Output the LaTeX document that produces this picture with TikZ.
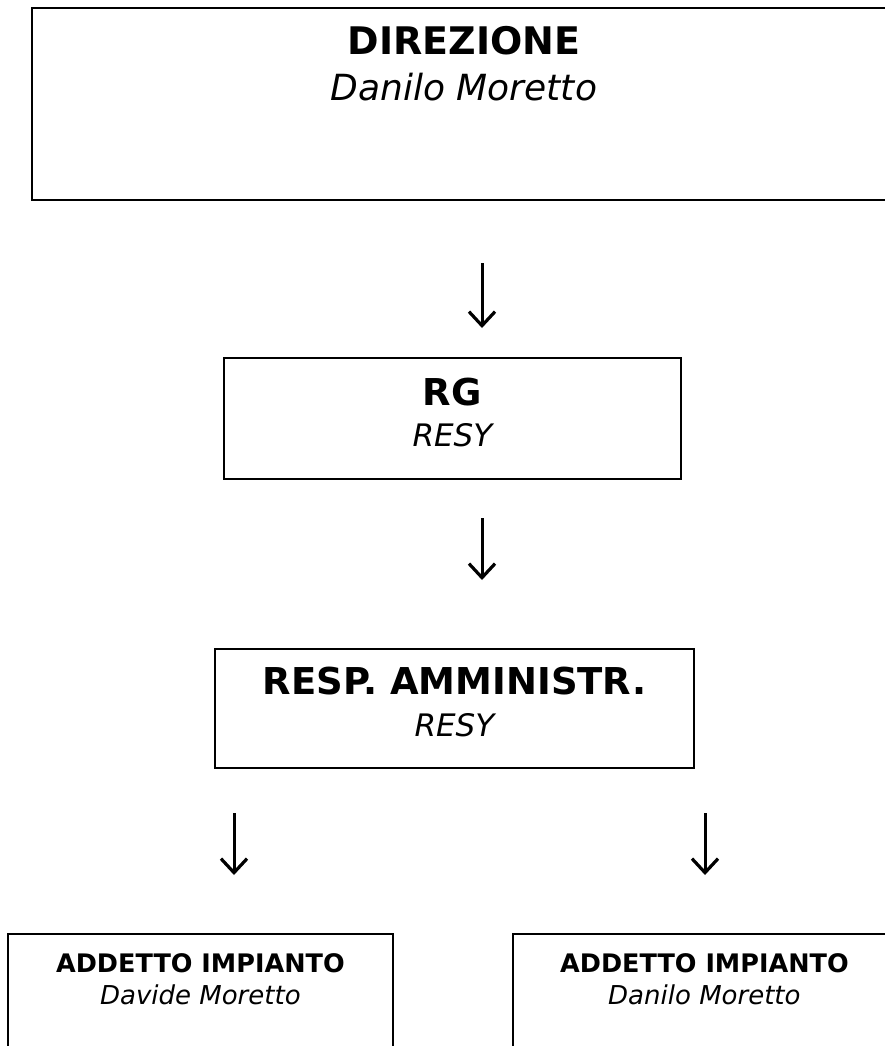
\documentclass[tikz,border=0pt]{standalone}
\usepackage{fontspec}
\setmainfont{DejaVu Sans}
\usepackage{tikz}
\usetikzlibrary{positioning}
\usetikzlibrary{arrows.meta}
\tikzset{orgbox/.style={draw, line width=1.8pt, rectangle, anchor=north west, inner sep=0pt},
headtext/.style={anchor=base, font=\bfseries\fontsize{37}{44}\selectfont},
nametext/.style={anchor=base, font=\itshape\fontsize{31}{37}\selectfont}}

\begin{document}
\begin{tikzpicture}[x=1pt, y=-1pt, down/.style={line width=3pt, -{Straight Barb[length=14pt, width=26pt, line width=3.2pt, line join=miter]}}]
\useasboundingbox (0,0) rectangle (885,1046);

				% boxes
				\node[orgbox, minimum width=864pt, minimum height=192pt] (dir) at (31,7) {};
				\node[orgbox, minimum width=457pt, minimum height=121pt] (rg) at (223,357) {};
				\node[orgbox, minimum width=479pt, minimum height=119pt] (resp) at (214,648) {};
				\node[orgbox, minimum width=385pt, minimum height=150pt] (addl) at (7,933) {};
				\node[orgbox, minimum width=383pt, minimum height=150pt] (addr) at (512,933) {};

				% texts
				\node[headtext, font=\bfseries\fontsize{38}{44}\selectfont] (dirhead) at ([yshift=-48pt]dir.north) {DIREZIONE};
				\node[nametext, font=\itshape\fontsize{36}{42}\selectfont] (dirname) at ([yshift=-94pt]dir.north) {Danilo Moretto};
				\node[headtext] (rghead) at ([yshift=-48pt]rg.north) {RG};
				\node[nametext] (rgname) at ([yshift=-89pt]rg.north) {RESY};
				\node[headtext] (resphead) at ([yshift=-46pt]resp.north) {RESP. AMMINISTR.};
				\node[nametext] (respname) at ([yshift=-88pt]resp.north) {RESY};
				\node[headtext, font=\bfseries\fontsize{25.5}{30}\selectfont] (addlhead) at ([yshift=-39pt]addl.north) {ADDETTO IMPIANTO};
				\node[nametext, font=\itshape\fontsize{26}{30}\selectfont] (addlname) at ([yshift=-71pt]addl.north) {Davide Moretto};
				\node[headtext, font=\bfseries\fontsize{25.5}{30}\selectfont] (addrhead) at ([yshift=-39pt]addr.north) {ADDETTO IMPIANTO};
				\node[nametext, font=\itshape\fontsize{26}{30}\selectfont] (addrname) at ([yshift=-71pt]addr.north) {Danilo Moretto};

				% arrows
				\coordinate (a1) at (482,263);
				\coordinate (b1) at (482,328);
				\coordinate (a2) at (482,518);
				\coordinate (b2) at (482,580);
				\coordinate (a3) at (234,813);
				\coordinate (b3) at (234,875);
				\coordinate (a4) at (705,813);
				\coordinate (b4) at (705,875);
				\draw[down] (a1) -- (b1);
				\draw[down] (a2) -- (b2);
				\draw[down] (a3) -- (b3);
				\draw[down] (a4) -- (b4);
\end{tikzpicture}
\end{document}
